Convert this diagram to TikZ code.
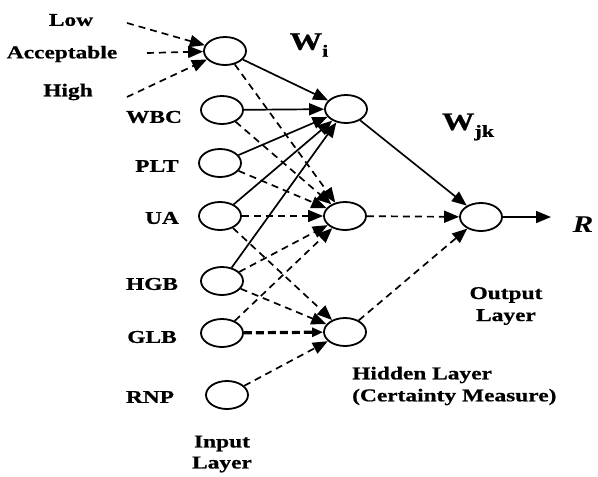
\documentclass[tikz,border=0pt]{standalone}
\usepackage{fontspec}
\setmainfont{Liberation Serif}[FakeStretch=1.3,BoldFeatures={FakeBold=0.8}]
\usetikzlibrary{shapes.geometric,arrows.meta}
\begin{document}
\begin{tikzpicture}[x=1pt,y=-1pt,
  neuron/.style={ellipse,draw,line width=1.8pt,minimum width=42pt,minimum height=28pt,inner sep=0pt},
  lbl/.style={font=\fontsize{18}{20}\selectfont\bfseries,inner sep=0pt},
  wlbl/.style={font=\fontsize{25}{27}\selectfont\bfseries,inner sep=0pt},
  link/.style={line width=1.7pt,-{Triangle[length=15pt,width=12pt]}},
  dlink/.style={link,dash pattern=on 7pt off 5pt},
  thickdlink/.style={link,line width=3.2pt,dash pattern=on 8pt off 4pt,-{Triangle[length=11pt,width=9pt]}},
]
\useasboundingbox (0,0) rectangle (598,477);

% input layer
\node[neuron] (i0) at (225,51) {};
\node[neuron] (i1) at (222,110) {};
\node[neuron] (i2) at (220,163) {};
\node[neuron] (i3) at (220,216) {};
\node[neuron] (i4) at (222,281) {};
\node[neuron] (i5) at (222,333) {};
\node[neuron] (i6) at (227,395) {};

% hidden layer
\node[neuron] (h1) at (346,109) {};
\node[neuron] (h2) at (345,216) {};
\node[neuron] (h3) at (345,332) {};

% output layer
\node[neuron] (o) at (481,217) {};

% labels of the fuzzy inputs
\node[lbl] (low) at (71,20) {Low};
\node[lbl] (acc) at (62,54) {Acceptable};
\node[lbl] (high) at (68,92) {High};
\coordinate (lowend) at (127,23);
\coordinate (accend) at (147,53);
\coordinate (highend) at (127,97);
\draw[dlink] (lowend) -- (i0);
\draw[dlink] (accend) -- (i0);
\draw[dlink] (highend) -- (i0);

% input labels
\node[lbl] (wbc) at (154,117) {WBC};
\node[lbl] (plt) at (157,166) {PLT};
\node[lbl] (ua)  at (162,218) {UA};
\node[lbl] (hgb) at (152,284) {HGB};
\node[lbl] (glb) at (152,337) {GLB};
\node[lbl] (rnp) at (150,397) {RNP};

% weight labels
\node[wlbl] (wi) at (309,45) {W\raisebox{-7pt}{\fontsize{17}{17}\selectfont i}};
\node[wlbl] (wjk) at (468,127) {W\raisebox{-7pt}{\fontsize{17}{17}\selectfont jk}};

% input -> first hidden neuron (solid)
\draw[link] (i0) -- (h1);
\draw[link] (i1) -- (h1);
\draw[link] (i2) -- (h1);
\draw[link] (i3) -- (h1);
\draw[link] (i4) -- (h1);

% input -> second hidden neuron (dashed)
\draw[dlink] (i0) -- (h2);
\draw[dlink] (i1) -- (h2);
\draw[dlink] (i2) -- (h2);
\draw[dlink] (i3) -- (h2);
\draw[dlink] (i4) -- (h2);
\draw[dlink] (i5) -- (h2);

% input -> third hidden neuron (dashed)
\draw[dlink] (i3) -- (h3);
\draw[dlink] (i4) -- (h3);
\draw[thickdlink] (i5) -- (h3);
\draw[dlink] (i6) -- (h3);

% hidden -> output
\draw[link] (h1) -- (o);
\draw[dlink] (h2) -- (o);
\draw[dlink] (h3) -- (o);

% result
\coordinate (rend) at (551,217);
\draw[link] (o) -- (rend);
\node[wlbl,font=\fontsize{24}{26}\selectfont\bfseries\itshape] (r) at (583,225) {R};

% layer names
\node[lbl,align=center] (outname) at (506,306) {Output\\[2pt]Layer};
\node[lbl,align=left,anchor=west] (hidname) at (352,386) {Hidden Layer\\[2pt](Certainty Measure)};
\node[lbl,align=center] (inname) at (222,454) {Input\\[1pt]Layer};
\end{tikzpicture}
\end{document}
